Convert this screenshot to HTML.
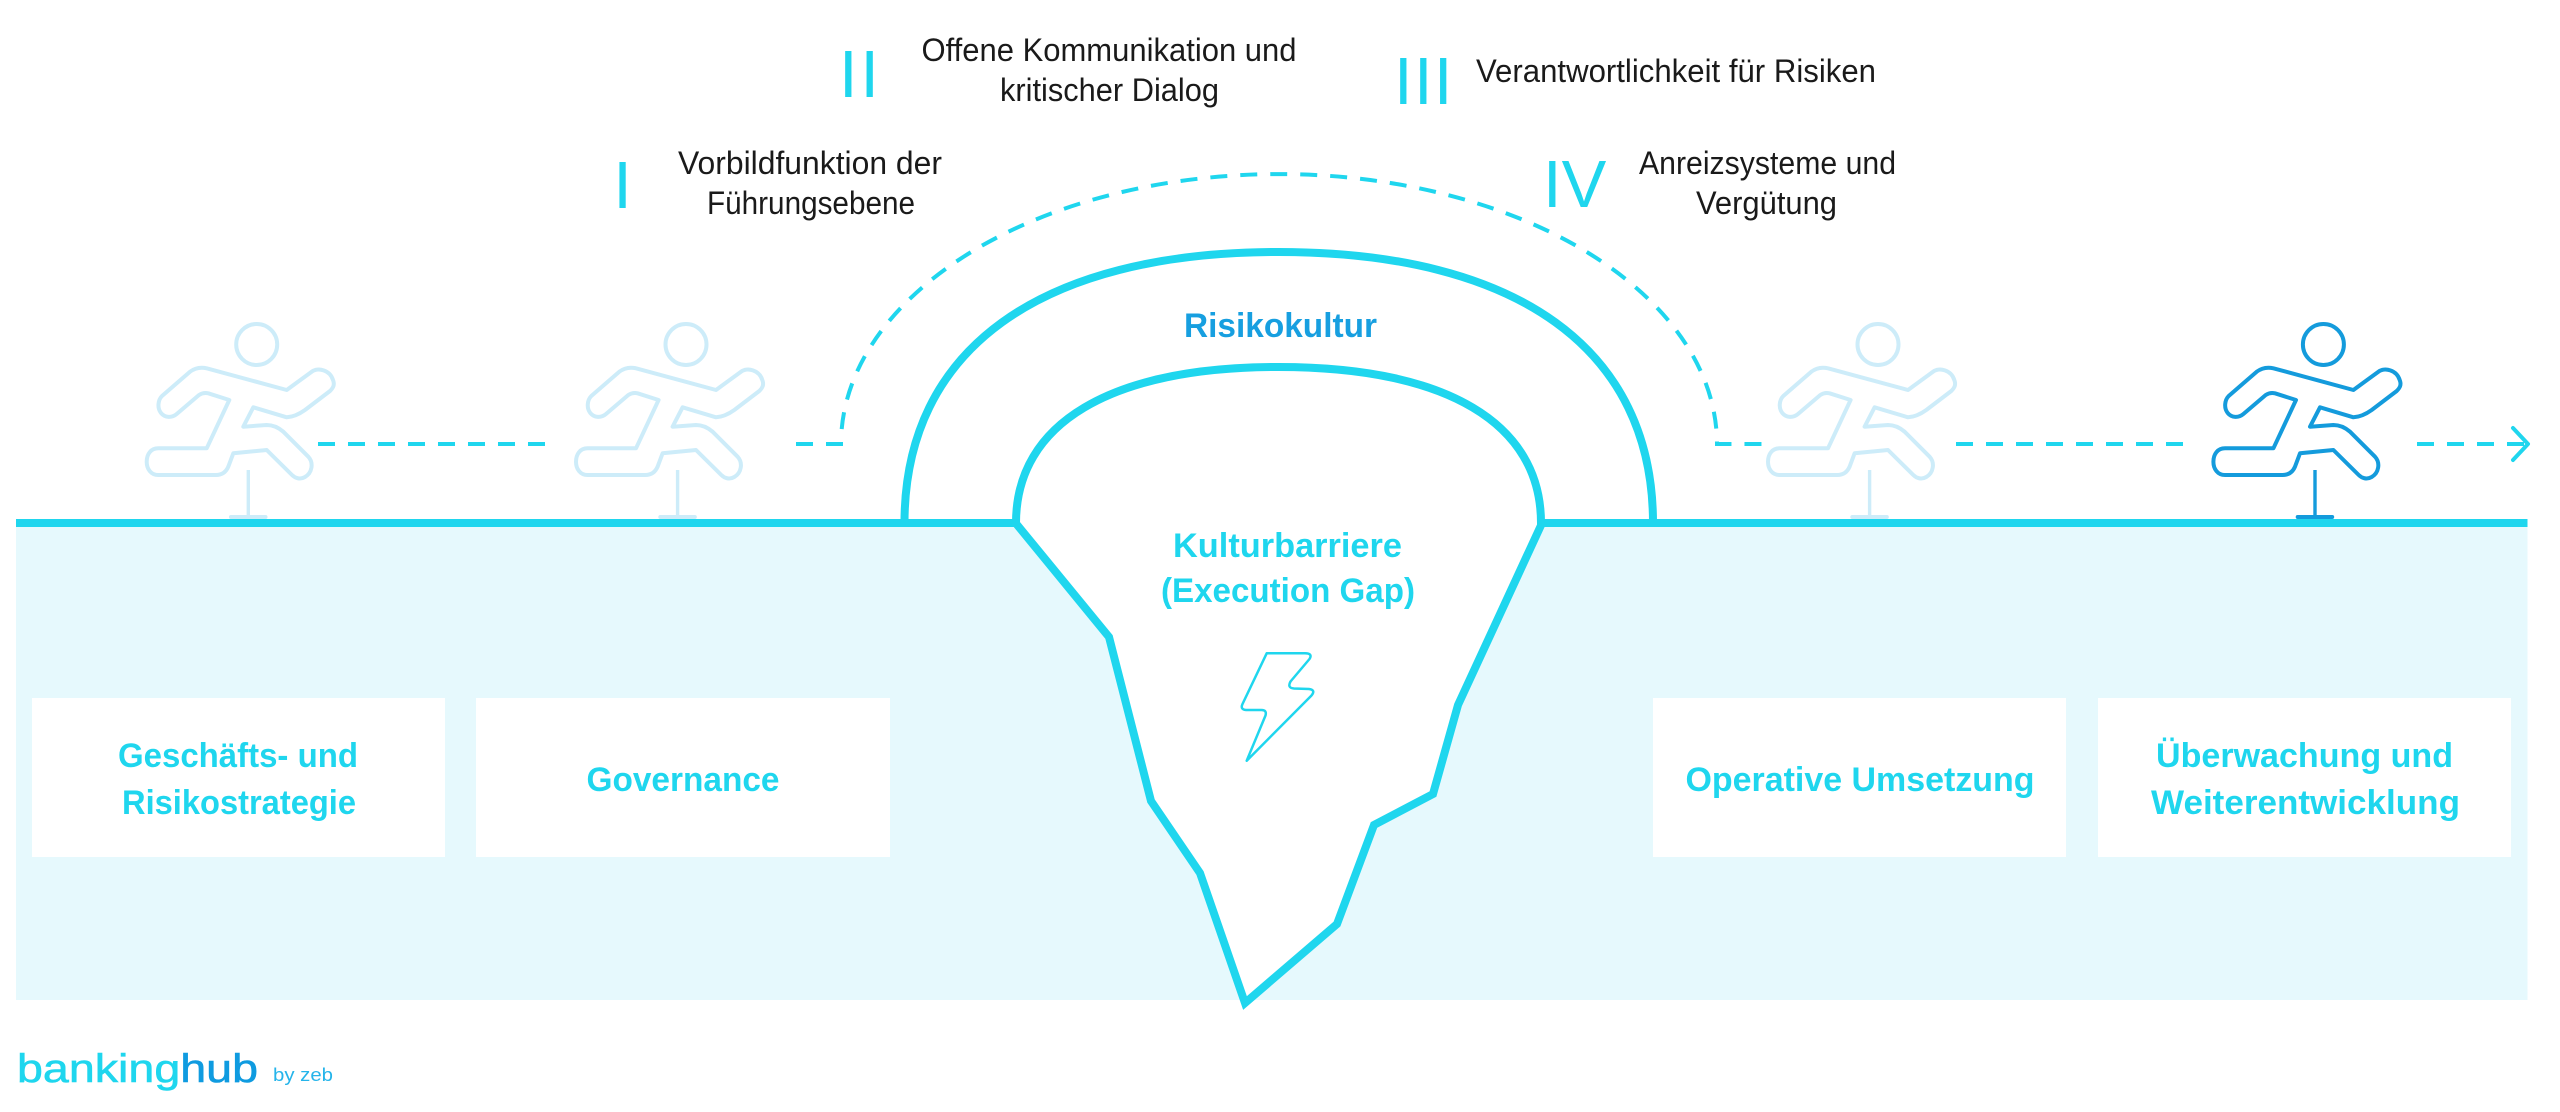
<!DOCTYPE html>
<html>
<head>
<meta charset="utf-8">
<style>
  html, body { margin: 0; padding: 0; background: #ffffff; }
  body { width: 2560px; height: 1112px; overflow: hidden; }
  svg { display: block; }
  .lbl { font-family: "Liberation Sans", Arial, sans-serif; font-size: 32px; fill: #1a1a1a; }
  .num { font-family: "Liberation Sans", Arial, sans-serif; font-size: 67px; fill: #1fd6ee; }
  .bold { font-family: "Liberation Sans", Arial, sans-serif; font-size: 34px; font-weight: bold; fill: #1fd6ee; }
</style>
</head>
<body>
<svg width="2560" height="1112" viewBox="0 0 2560 1112" xmlns="http://www.w3.org/2000/svg">
  <defs>
    <g id="runner">
      <circle cx="116.7" cy="34.5" r="20.5" fill="none" stroke-width="4"/>
      <path d="M66.7,58.3 L146.7,80 L171.7,61.7 C178,57 190,60 193,70 C195,75 193,78 190,81 L165,100 C158,105 152,107 146.7,107.3 L113.3,97.3 L103.3,116.7 L126.7,115 C134,115 139,118 143.3,121.7 L168.3,146.7 C174,153 172,163 165,167 C160,170 155,168 152,165 L126.7,140 L93.3,143.3 L88.3,156.7 C86,162 82,165 76,165 L18.3,165 C11,165 6.7,159 6.7,151.7 C6.7,144 11,138.3 18.3,138.3 L66.7,138.3 L89.3,90 L68.3,83.3 C65,82.5 62,83 59,85 L36.7,104 C32,108 25,108 21,103 C17,98 18,90 22,86 L50,61.7 C55,58 61,57 66.7,58.3 Z" fill="none" stroke-width="4" stroke-linejoin="round"/>
      <line x1="108.3" y1="160" x2="108.3" y2="207" stroke-width="3.4"/>
      <line x1="91" y1="207" x2="125.5" y2="207" stroke-width="4" stroke-linecap="round"/>
    </g>
  </defs>

  <!-- underground fill -->
  <rect x="16" y="527" width="2511.5" height="473" fill="#e6f9fd"/>

  <!-- white boxes -->
  <rect x="32" y="698" width="413" height="159" fill="#ffffff"/>
  <rect x="476" y="698" width="414" height="159" fill="#ffffff"/>
  <rect x="1653" y="698" width="413" height="159" fill="#ffffff"/>
  <rect x="2098" y="698" width="413" height="159" fill="#ffffff"/>

  <!-- crevasse white interior -->
  <polygon points="1016,523 1109,637 1151,801 1200,873 1245,1003 1337,924 1374,825 1433,794 1458,705 1541,523" fill="#ffffff"/>

  <!-- ground line -->
  <line x1="16" y1="523" x2="1020" y2="523" stroke="#1fd6ee" stroke-width="8"/>
  <line x1="1537" y1="523" x2="2527.5" y2="523" stroke="#1fd6ee" stroke-width="8"/>

  <!-- crevasse outline -->
  <polyline points="1014,521 1109,637 1151,801 1200,873 1245,1003 1337,924 1374,825 1433,794 1458,705 1543,521" fill="none" stroke="#1fd6ee" stroke-width="8" stroke-linejoin="miter"/>

  <!-- outer arch -->
  <path d="M904.5,523 C904.5,349.6 1039.2,252 1278.7,252 C1518.2,252 1653,349.6 1653,523" fill="none" stroke="#1fd6ee" stroke-width="8"/>
  <!-- inner arch -->
  <path d="M1016,523 C1016,423.2 1110.5,367 1278.5,367 C1446.5,367 1541,423.2 1541,523" fill="none" stroke="#1fd6ee" stroke-width="8"/>

  <!-- dashed connectors -->
  <g fill="none" stroke="#1fd6ee" stroke-width="4" stroke-dasharray="17 13">
    <path d="M318,444 H555"/>
    <path d="M796,444 H841 A438,270 0 0 1 1717,444 H1766"/>
    <path d="M1956,444 H2194"/>
    <path d="M2417,444 H2524"/>
  </g>
  <path d="M2513,428 L2528,444 L2513,460" fill="none" stroke="#1fd6ee" stroke-width="4" stroke-linecap="round" stroke-linejoin="round"/>

  <!-- runners -->
  <use href="#runner" transform="translate(140,310)" stroke="#cdecf9"/>
  <use href="#runner" transform="translate(569.3,310)" stroke="#cdecf9"/>
  <use href="#runner" transform="translate(1761.3,310)" stroke="#cdecf9"/>
  <use href="#runner" transform="translate(2206.7,310)" stroke="#149bdc"/>

  <!-- lightning -->
  <path d="M1266.7,653.3 L1305,653.3 Q1313,653.5 1309.5,659 L1290.5,681.5 Q1287,688 1294,688.5 L1309,689 Q1316,690 1311.5,695.5 L1246.7,760.7 L1265.5,715.5 Q1267,710 1261.5,710 L1246,710 Q1240,709.5 1242.5,704 Z" fill="none" stroke="#1fd6ee" stroke-width="2.5" stroke-linejoin="round"/>

  <!-- roman numerals -->
  <text class="num" x="622.5" y="208" text-anchor="middle">I</text>
  <text class="num" x="839" y="97" textLength="40" lengthAdjust="spacing">II</text>
  <text class="num" x="1394" y="104" textLength="58.5" lengthAdjust="spacing">III</text>
  <text class="num" x="1543" y="207">IV</text>

  <!-- top labels -->
  <text class="lbl" x="810" y="174" text-anchor="middle" textLength="264" lengthAdjust="spacingAndGlyphs">Vorbildfunktion der</text>
  <text class="lbl" x="811" y="214" text-anchor="middle" textLength="208" lengthAdjust="spacingAndGlyphs">Führungsebene</text>
  <text class="lbl" x="1109" y="61" text-anchor="middle" textLength="375" lengthAdjust="spacingAndGlyphs">Offene Kommunikation und</text>
  <text class="lbl" x="1109.5" y="101" text-anchor="middle" textLength="219" lengthAdjust="spacingAndGlyphs">kritischer Dialog</text>
  <text class="lbl" x="1476" y="82" textLength="400" lengthAdjust="spacingAndGlyphs">Verantwortlichkeit für Risiken</text>
  <text class="lbl" x="1767.5" y="174" text-anchor="middle" textLength="257" lengthAdjust="spacingAndGlyphs">Anreizsysteme und</text>
  <text class="lbl" x="1766.5" y="214" text-anchor="middle" textLength="141" lengthAdjust="spacingAndGlyphs">Vergütung</text>

  <!-- center labels -->
  <text class="bold" x="1280.5" y="337" text-anchor="middle" textLength="193" lengthAdjust="spacingAndGlyphs" style="fill:#179fe0">Risikokultur</text>
  <text class="bold" x="1287.5" y="557" text-anchor="middle" textLength="229" lengthAdjust="spacingAndGlyphs">Kulturbarriere</text>
  <text class="bold" x="1288" y="602" text-anchor="middle" textLength="254" lengthAdjust="spacingAndGlyphs">(Execution Gap)</text>

  <!-- box labels -->
  <text class="bold" x="238" y="767" text-anchor="middle" textLength="240" lengthAdjust="spacingAndGlyphs">Geschäfts- und</text>
  <text class="bold" x="239" y="814" text-anchor="middle" textLength="234" lengthAdjust="spacingAndGlyphs">Risikostrategie</text>
  <text class="bold" x="683" y="791" text-anchor="middle" textLength="193" lengthAdjust="spacingAndGlyphs">Governance</text>
  <text class="bold" x="1860" y="791" text-anchor="middle" textLength="349" lengthAdjust="spacingAndGlyphs">Operative Umsetzung</text>
  <text class="bold" x="2304.5" y="767" text-anchor="middle" textLength="297" lengthAdjust="spacingAndGlyphs">Überwachung und</text>
  <text class="bold" x="2305.5" y="814" text-anchor="middle" textLength="309" lengthAdjust="spacingAndGlyphs">Weiterentwicklung</text>

  <!-- logo -->
  <text x="17" y="1082" font-family="'Liberation Sans', Arial, sans-serif" font-size="40" textLength="241" lengthAdjust="spacingAndGlyphs" style="stroke-width:0.6" ><tspan fill="#1fd6ee" stroke="#1fd6ee">banking</tspan><tspan fill="#0f9be0" stroke="#0f9be0">hub</tspan></text>
  <text x="273" y="1081" font-family="'Liberation Sans', Arial, sans-serif" font-size="18" fill="#25b4ea" textLength="60" lengthAdjust="spacingAndGlyphs">by zeb</text>
</svg>
</body>
</html>
